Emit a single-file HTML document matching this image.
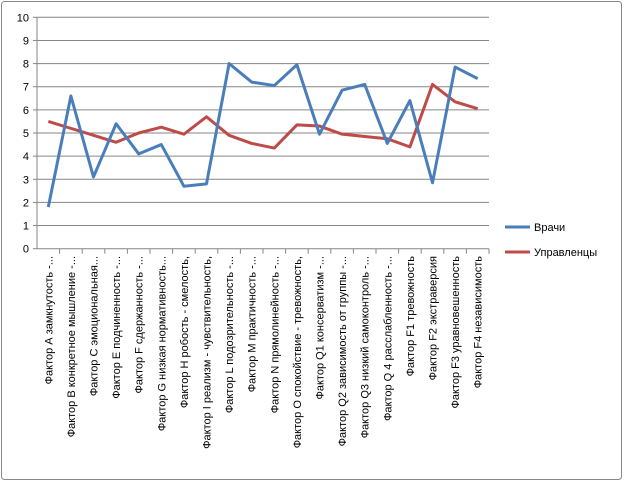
<!DOCTYPE html>
<html><head><meta charset="utf-8"><style>
body{margin:0;background:#fff;}
svg text{font-family:"Liberation Sans",sans-serif;font-size:11px;fill:#000;}
</style></head><body>
<svg width="624" height="482">
<rect x="1.5" y="1.5" width="620" height="478" rx="3" fill="#fff" stroke="#888"/>
<g id="grid"></g><g id="axes"></g><g id="labels"></g><g id="series"></g>
<g>
<line x1="505" y1="227" x2="530" y2="227" stroke="#4a7ebb" stroke-width="3"/>
<text x="534" y="231">Врачи</text>
<line x1="505" y1="252" x2="530" y2="252" stroke="#be4b48" stroke-width="3"/>
<text x="534" y="256">Управленцы</text>
</g>
</svg>
<script>
const categories=["Фактор А замкнутость -...","Фактор В конкретное мышление -...","Фактор С эмоциональная...","Фактор Е подчиненность -...","Фактор F сдержанность -...","Фактор G низкая нормативность...","Фактор Н робость - смелость,","Фактор I реализм - чувствительность,","Фактор L подозрительность -...","Фактор М практичность -...","Фактор N прямолинейность -...","Фактор О спокойствие - тревожность,","Фактор Q1 консерватизм -...","Фактор Q2  зависимость от группы -...","Фактор Q3 низкий самоконтроль -...","Фактор Q 4 расслабленность -...","Фактор F1 тревожность","Фактор F2  экстраверсия","Фактор F3 уравновешенность","Фактор F4 независимость"];
const vrachi=[1.8,6.6,3.1,5.4,4.1,4.5,2.7,2.8,8.0,7.2,7.05,7.95,4.95,6.85,7.1,4.55,6.4,2.85,7.85,7.35];
const upravlentsy=[5.5,5.2,4.9,4.6,5.0,5.25,4.95,5.7,4.9,4.55,4.35,5.35,5.3,4.95,4.85,4.75,4.4,7.1,6.35,6.05];
const yTicks=[0,1,2,3,4,5,6,7,8,9,10];
const NS="http://www.w3.org/2000/svg";
const X0=37,X1=489,Y0=248.7,Y1=17.3;
const bw=(X1-X0)/categories.length;
function xs(i){return X0+bw*(i+0.5);}
function ys(v){return Y0-(v/10)*(Y0-Y1);}
function mk(t,a,p){const e=document.createElementNS(NS,t);for(const k in a)e.setAttribute(k,a[k]);p.appendChild(e);return e;}
const grid=document.getElementById('grid'),axes=document.getElementById('axes'),labels=document.getElementById('labels'),series=document.getElementById('series');
yTicks.forEach(t=>{
 const y=ys(t);
 if(t>0){const g=mk('line',{x1:X0,x2:X1,y1:y,y2:y,stroke:'#868686','stroke-width':1},grid);
 
 }
 const tk=mk('line',{x1:X0-4,x2:X0,y1:y,y2:y,stroke:'#868686'},axes);
 
 
 const tx=mk('text',{x:X0-8,y:y+4,'text-anchor':'end'},axes);tx.textContent=t;
 
 
});
const ya=mk('line',{x1:X0,x2:X0,y1:Y1,y2:Y0,stroke:'#868686'},axes);


const xa=mk('line',{x1:X0,x2:X1,y1:Y0,y2:Y0,stroke:'#868686'},axes);


categories.forEach((c,i)=>{
 const x=X0+bw*(i+1);
 const tk=mk('line',{x1:x,x2:x,y1:Y0,y2:Y0+5,stroke:'#868686'},axes);
 
 
 const cx=xs(i)+4;
 const tx=mk('text',{x:cx,y:256,'text-anchor':'end',transform:`rotate(-90 ${cx} 256)`},labels);
 tx.textContent=c;
 
 
});
function line(d,col,name){
 const p=mk('polyline',{points:d.map((v,i)=>xs(i)+','+ys(v)).join(' '),fill:'none',stroke:col,'stroke-width':3,'stroke-linejoin':'round'},series);
 
 
}
line(upravlentsy,'#be4b48','series-upravlentsy');
line(vrachi,'#4a7ebb','series-vrachi');
</script>
</body></html>
